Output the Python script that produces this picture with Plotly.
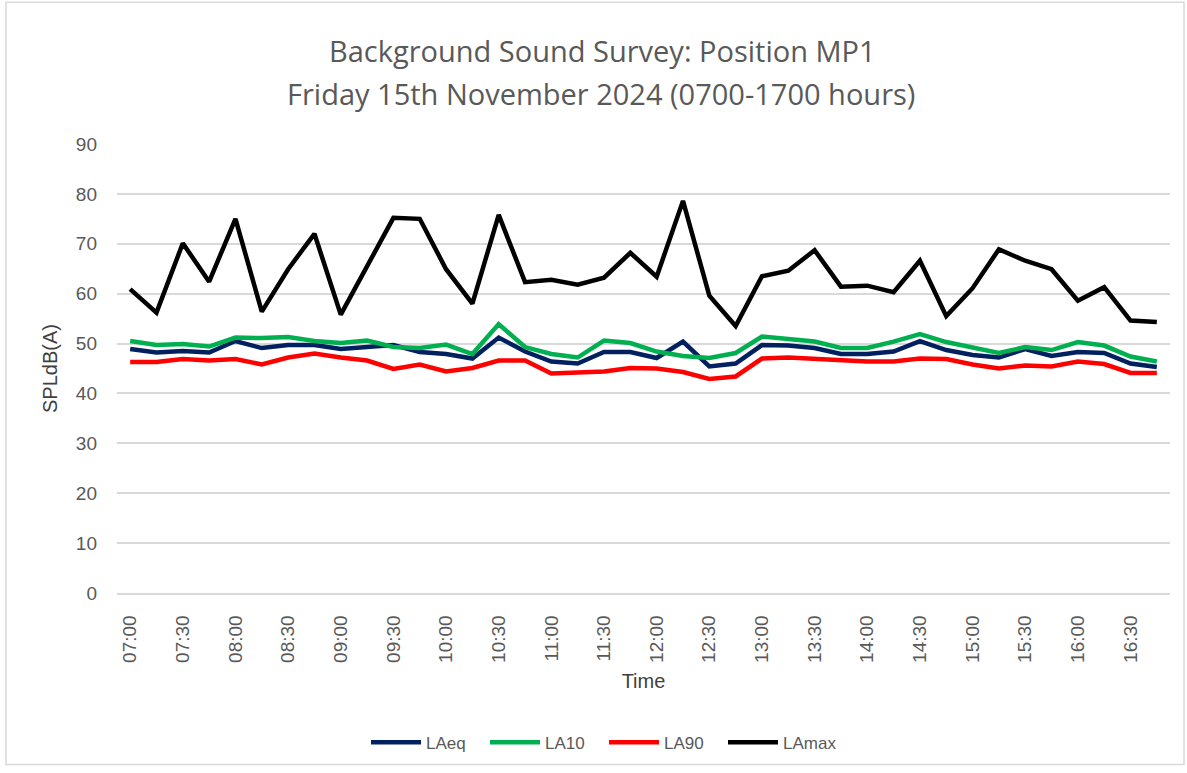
import plotly.graph_objects as go

# 15-minute intervals, 07:00 to 16:45
times = [f"{h:02d}:{m:02d}" for h in range(7, 17) for m in (0, 15, 30, 45)]
tick_labels = times[::2]

laeq = [48.9, 48.2, 48.5, 48.2, 50.5, 49.1, 49.7, 49.7, 48.9, 49.4,
        49.7, 48.3, 47.9, 47.0, 51.2, 48.4, 46.4, 46.0, 48.3, 48.3,
        47.1, 50.4, 45.4, 46.0, 49.7, 49.6, 49.1, 47.9, 47.9, 48.4,
        50.5, 48.7, 47.7, 47.2, 48.9, 47.5, 48.3, 48.1, 46.0, 45.3]
la10 = [50.5, 49.7, 49.9, 49.4, 51.2, 51.1, 51.3, 50.5, 50.1, 50.6,
        49.3, 49.1, 49.8, 47.9, 53.9, 49.3, 47.9, 47.2, 50.6, 50.1,
        48.4, 47.5, 47.1, 48.1, 51.4, 50.9, 50.4, 49.1, 49.1, 50.4,
        51.9, 50.3, 49.3, 48.1, 49.3, 48.7, 50.3, 49.6, 47.4, 46.4]
la90 = [46.3, 46.3, 46.9, 46.6, 46.9, 45.8, 47.2, 48.0, 47.2, 46.6,
        44.9, 45.8, 44.4, 45.1, 46.6, 46.6, 44.0, 44.1, 44.4, 45.1,
        45.0, 44.3, 42.9, 43.4, 47.0, 47.2, 46.9, 46.5, 46.4, 46.4,
        47.0, 46.9, 45.8, 45.0, 45.6, 45.4, 46.4, 45.9, 44.1, 44.1]
lamax = [60.9, 56.2, 70.1, 62.4, 75.0, 56.4, 64.9, 72.0, 55.8, 65.6,
         75.2, 75.0, 64.9, 58.0, 75.8, 62.3, 62.8, 61.8, 63.2, 68.2,
         63.4, 78.6, 59.6, 53.5, 63.5, 64.6, 68.7, 61.4, 61.6, 60.3,
         66.6, 55.5, 61.1, 68.9, 66.6, 64.9, 58.6, 61.3, 54.6, 54.3]

series = [
    ("LAeq", laeq, "#002060"),
    ("LA10", la10, "#00B050"),
    ("LA90", la90, "#FF0000"),
    ("LAmax", lamax, "#000000"),
]

title_lines = [
    "Background Sound Survey: Position MP1",
    "Friday 15th November 2024 (0700-1700 hours)",
]

fig = go.Figure()
for name, vals, col in series:
    fig.add_trace(go.Scatter(
        x=times, y=vals, mode="lines", name=name,
        line=dict(color=col, width=4.5)
    ))

grey = "#595959"
W, H = 1187, 773
L, R, T, B = 117, 17, 144, 176
pw, ph = W - L - R, H - T - B


def px_x(p):
    return (p - L) / pw


def px_y(p):
    return (H - B - p) / ph


fig.update_layout(
    width=W,
    height=H,
    margin=dict(l=L, r=R, t=T, b=B),
    paper_bgcolor="white",
    plot_bgcolor="white",
    font=dict(family="Liberation Sans, Arial, sans-serif", color=grey, size=19),
    xaxis=dict(
        type="category",
        range=[-0.5, len(times) - 0.5],
        tickmode="array",
        tickvals=tick_labels,
        ticktext=tick_labels,
        tickangle=-90,
        showgrid=False,
        showline=True,
        linecolor="#d9d9d9",
        linewidth=1.5,
        zeroline=False,
        ticklabelstandoff=13,
        tickfont=dict(size=19, color=grey),
        title=dict(text="Time", font=dict(size=20, color="#404040"), standoff=12),
    ),
    yaxis=dict(
        range=[0, 90],
        dtick=10,
        showgrid=True,
        gridcolor="#d9d9d9",
        gridwidth=1.5,
        zeroline=False,
        showline=False,
        tickfont=dict(size=19, color=grey),
        ticklabelstandoff=19,
        title=dict(text="SPLdB(A)", font=dict(size=20, color="#404040"), standoff=12),
    ),
    legend=dict(
        orientation="h",
        x=px_x(604), xanchor="center",
        y=px_y(748), yanchor="middle",
        font=dict(size=17, color=grey),
        itemwidth=50,
        entrywidth=54,
    ),
    annotations=[
        dict(text=title_lines[0], xref="paper", yref="paper",
             x=px_x(602), y=px_y(50), xanchor="center", yanchor="middle",
             showarrow=False, font=dict(family="Open Sans, sans-serif", size=29, color=grey)),
        dict(text=title_lines[1], xref="paper", yref="paper",
             x=px_x(601), y=px_y(93), xanchor="center", yanchor="middle",
             showarrow=False, font=dict(family="Open Sans, sans-serif", size=29, color=grey)),
    ],
    shapes=[dict(
        type="rect", xref="paper", yref="paper",
        x0=px_x(6), x1=px_x(1184), y0=px_y(770), y1=px_y(1),
        line=dict(color="#d9d9d9", width=1.5), layer="below"
    )],
)

fig.write_html("out.html", config={"displayModeBar": False},
               post_script="document.body.style.margin='0';")
